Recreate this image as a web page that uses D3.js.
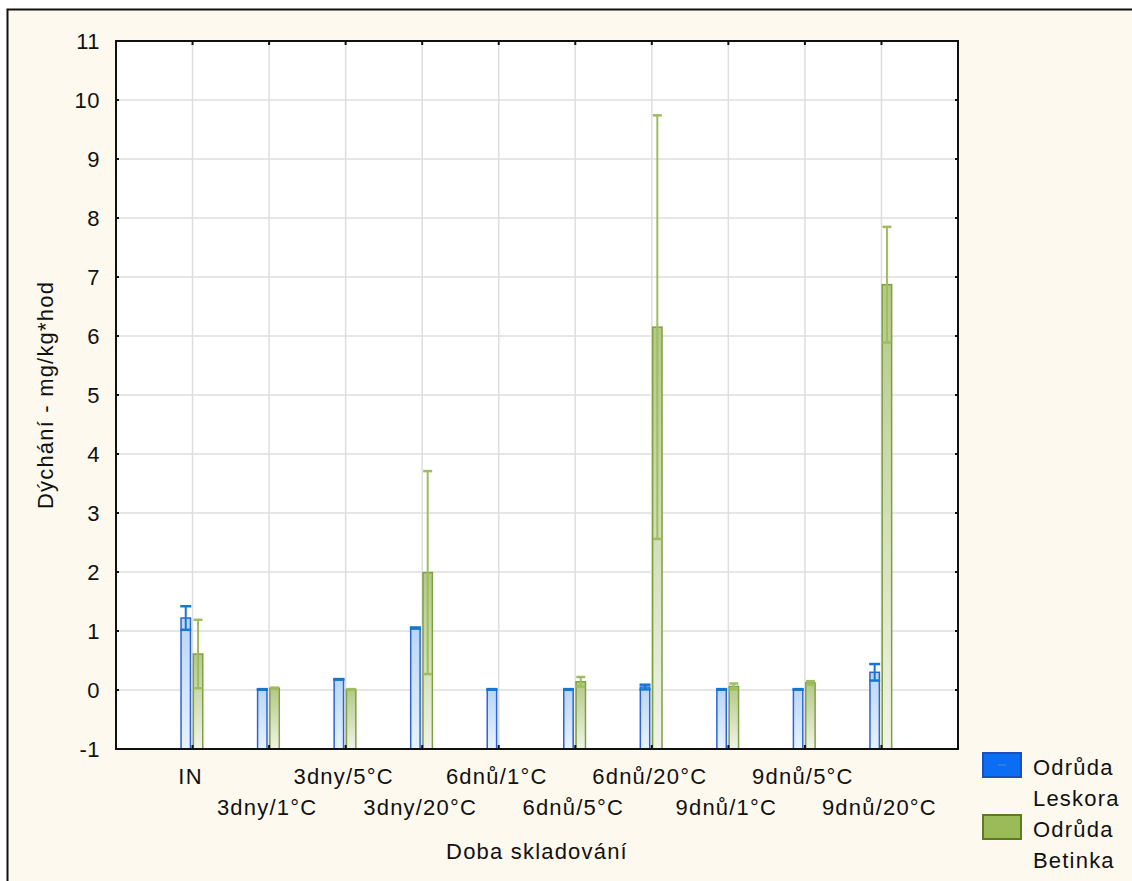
<!DOCTYPE html>
<html>
<head>
<meta charset="utf-8">
<script src="https://cdn.jsdelivr.net/npm/d3@7"></script>
<style>
  html, body { margin: 0; padding: 0; background: #ffffff; }
  svg { display: block; }
  text { font-family: "Liberation Sans", Arial, sans-serif; fill: #111; }
</style>
</head>
<body>
<svg id="chart" width="1132" height="881"></svg>
<script>
// Storage period categories (x axis)
const categories = ["IN", "3dny/1°C", "3dny/5°C", "3dny/20°C", "6dnů/1°C", "6dnů/5°C", "6dnů/20°C", "9dnů/1°C", "9dnů/5°C", "9dnů/20°C"];
// Respiration means and error ranges per cultivar (mg/kg*hod); null = no measurement
const leskora    = [1.22, 0.01, 0.18, 1.05, 0.01, 0.01, 0.05, 0.01, 0.01, 0.30];
const leskoraErr = [0.20, 0.005, 0.005, 0.01, 0.005, 0.005, 0.04, 0.005, 0.005, 0.14];
const betinka    = [0.61, 0.03, 0.01, 1.99, null, 0.14, 6.15, 0.06, 0.12, 6.87];
const betinkaErr = [0.58, 0.01, 0.005, 1.72, null, 0.08, 3.59, 0.05, 0.03, 0.98];
const yTicks = [-1, 0, 1, 2, 3, 4, 5, 6, 7, 8, 9, 10, 11];
const seriesNames = [["Odrůda", "Leskora"], ["Odrůda", "Betinka"]];

const svg = d3.select("#chart");
const pLeft = 116, pRight = 958, pTop = 41, pBottom = 749;

// Outer frame
svg.append("rect").attr("x", 7.5).attr("y", 9.5).attr("width", 1140).attr("height", 900)
  .attr("fill", "#fdf9ee").attr("stroke", "#111").attr("stroke-width", 2);

const x = d3.scaleLinear().domain([0, categories.length + 1]).range([pLeft, pRight]);
const y = d3.scaleLinear().domain([-1, 11]).range([pBottom, pTop]);

// Plot background
svg.append("rect").attr("x", pLeft).attr("y", pTop).attr("width", pRight - pLeft).attr("height", pBottom - pTop)
  .attr("fill", "#ffffff");

// Gridlines
svg.append("g").selectAll("line").data(yTicks.filter(d => d > -1 && d < 11)).join("line")
  .attr("x1", pLeft).attr("x2", pRight).attr("y1", d => y(d)).attr("y2", d => y(d))
  .attr("stroke", "#dedede").attr("stroke-width", 1.5);
svg.append("g").selectAll("line").data(categories).join("line")
  .attr("x1", (d, i) => x(i + 1)).attr("x2", (d, i) => x(i + 1))
  .attr("y1", pTop).attr("y2", pBottom)
  .attr("stroke", "#dedede").attr("stroke-width", 1.5);

// Gradients for bar fills
const defs = svg.append("defs");
function grad(id, c1, c2) {
  const g = defs.append("linearGradient").attr("id", id).attr("x1", 0).attr("y1", 0).attr("x2", 0).attr("y2", 1);
  g.append("stop").attr("offset", "0%").attr("stop-color", c1);
  g.append("stop").attr("offset", "100%").attr("stop-color", c2);
}
grad("gBlue", "#b9d6f7", "#e8f2fd");
grad("gGreen", "#b3c986", "#f1f4e7");

const series = [
  { vals: leskora, errs: leskoraErr, off: -11.5, fill: "url(#gBlue)", stroke: "#2a64d8", err: "#1677d2", capW: 11 },
  { vals: betinka, errs: betinkaErr, off: 0.8, fill: "url(#gGreen)", stroke: "#7f9f45", err: "#9dbd5e", capW: 9 }
];
const bw = 9.4;

series.forEach(s => {
  const data = s.vals.map((v, i) => ({ i, v, e: s.errs[i] })).filter(d => d.v !== null);
  const g = svg.append("g");
  g.selectAll("rect").data(data).join("rect")
    .attr("x", d => x(d.i + 1) + s.off)
    .attr("y", d => y(d.v))
    .attr("width", bw)
    .attr("height", d => y(-1) - y(d.v))
    .attr("fill", s.fill).attr("stroke", s.stroke).attr("stroke-width", 1.5);
  // error whiskers
  const eg = svg.append("g").attr("stroke", s.err).attr("stroke-width", 2);
  data.forEach(d => {
    const cx = x(d.i + 1) + s.off + bw / 2;
    eg.append("line").attr("x1", cx).attr("x2", cx).attr("y1", y(d.v + d.e)).attr("y2", y(d.v - d.e));
    [d.v + d.e, d.v - d.e].forEach(v => {
      eg.append("line").attr("x1", cx - s.capW / 2).attr("x2", cx + s.capW / 2)
        .attr("y1", y(v)).attr("y2", y(v)).attr("stroke-width", 2.5);
    });
  });
});

// Plot frame
svg.append("rect").attr("x", pLeft).attr("y", pTop).attr("width", pRight - pLeft).attr("height", pBottom - pTop)
  .attr("fill", "none").attr("stroke", "#111").attr("stroke-width", 2);

// Small tick marks
const tg = svg.append("g").attr("stroke", "#111").attr("stroke-width", 2);
categories.forEach((c, i) => {
  tg.append("line").attr("x1", x(i + 1)).attr("x2", x(i + 1)).attr("y1", pBottom).attr("y2", pBottom - 4);
  tg.append("line").attr("x1", x(i + 1)).attr("x2", x(i + 1)).attr("y1", pTop).attr("y2", pTop + 4);
});
yTicks.forEach(t => {
  tg.append("line").attr("x1", pLeft).attr("x2", pLeft + 3).attr("y1", y(t)).attr("y2", y(t));
  tg.append("line").attr("x1", pRight).attr("x2", pRight - 3).attr("y1", y(t)).attr("y2", y(t));
});

// Y tick labels
svg.append("g").selectAll("text").data(yTicks).join("text")
  .attr("x", 100).attr("y", d => y(d) + 8)
  .attr("text-anchor", "end").attr("font-size", 22).attr("letter-spacing", 0.5)
  .text(d => d);

// X tick labels, staggered in two rows
svg.append("g").selectAll("text").data(categories).join("text")
  .attr("x", (d, i) => x(i + 1) - 2)
  .attr("y", (d, i) => i % 2 === 0 ? 784 : 815)
  .attr("text-anchor", "middle").attr("font-size", 22).attr("letter-spacing", 1.2)
  .text(d => d);

// Axis titles
svg.append("text").attr("x", 537).attr("y", 859).attr("text-anchor", "middle")
  .attr("font-size", 22).attr("letter-spacing", 1.2).text("Doba skladování");
svg.append("text").attr("transform", `translate(53, ${(pTop + pBottom) / 2}) rotate(-90)`)
  .attr("text-anchor", "middle").attr("font-size", 22).attr("letter-spacing", 1.2)
  .text("Dýchání - mg/kg*hod");

// Legend
const legend = [
  { fill: "#0b6cf4", stroke: "#1a4fbf", mark: "#4a90d8", y: 753 },
  { fill: "#9bbb59", stroke: "#5b7a22", mark: null, y: 815 }
];
legend.forEach((l, k) => {
  svg.append("rect").attr("x", 983).attr("y", l.y).attr("width", 38).attr("height", 24)
    .attr("fill", l.fill).attr("stroke", l.stroke).attr("stroke-width", 2);
  if (l.mark) svg.append("line").attr("x1", 998).attr("x2", 1006).attr("y1", l.y + 12).attr("y2", l.y + 12)
    .attr("stroke", l.mark).attr("stroke-width", 1);
  seriesNames[k].forEach((t, j) => {
    svg.append("text").attr("x", 1033).attr("y", l.y + 22 + j * 31)
      .attr("font-size", 22).attr("letter-spacing", 1.2).text(t);
  });
});
</script>
</body>
</html>
